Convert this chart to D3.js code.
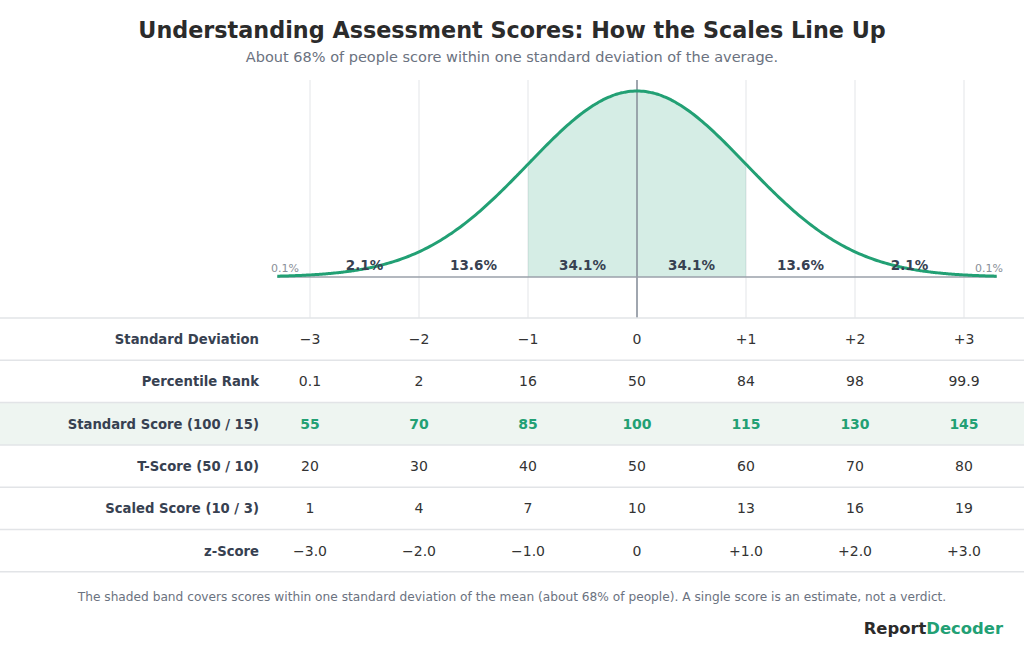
<!DOCTYPE html>
<html>
<head>
<meta charset="utf-8">
<script src="https://cdn.jsdelivr.net/npm/d3@7"></script>
<style>
  body { margin: 0; background: #fff; }
  svg { display: block; font-family: "DejaVu Sans", sans-serif; }
</style>
</head>
<body>
<div id="screen"></div>
<script>
var width = 1024;
var height = 654;

// the SD columns
var sdSteps = [-3, -2, -1, 0, 1, 2, 3];
// percent of people between neighbouring SD lines
var bandMids = [-2.5, -1.5, -0.5, 0.5, 1.5, 2.5];
var bandLabels = ["2.1%", "13.6%", "34.1%", "34.1%", "13.6%", "2.1%"];
var tailLabels = ["0.1%", "0.1%"];

var rowNames = ["Standard Deviation", "Percentile Rank", "Standard Score (100 / 15)",
  "T-Score (50 / 10)", "Scaled Score (10 / 3)", "z-Score"];
var sdLabels = ["\u22123", "\u22122", "\u22121", "0", "+1", "+2", "+3"];
var percentileRanks = ["0.1", "2", "16", "50", "84", "98", "99.9"];
var standardScores = ["55", "70", "85", "100", "115", "130", "145"];
var tScores = ["20", "30", "40", "50", "60", "70", "80"];
var scaledScores = ["1", "4", "7", "10", "13", "16", "19"];
var zScores = ["\u22123.0", "\u22122.0", "\u22121.0", "0", "+1.0", "+2.0", "+3.0"];
var tableRows = [sdLabels, percentileRanks, standardScores, tScores, scaledScores, zScores];
var highlightRow = 2;

var green = "#22a074";
var dark = "#2b2b2b";
var labelCol = "#374151";

var svg = d3.select("#screen").append("svg")
  .attr("width", width).attr("height", height);

svg.append("text").attr("x", 512).attr("y", 38)
  .attr("text-anchor", "middle").attr("font-size", "22.3px").attr("font-weight", "bold")
  .attr("fill", dark).text("Understanding Assessment Scores: How the Scales Line Up");
svg.append("text").attr("x", 512).attr("y", 62)
  .attr("text-anchor", "middle").attr("font-size", "14.5px")
  .attr("fill", "#6b7280").text("About 68% of people score within one standard deviation of the average.");

var x = d3.scaleLinear().domain([-3.3, 3.3]).range([277.3, 996.7]);
var pdf = function (z) { return Math.exp(-z * z / 2) / Math.sqrt(2 * Math.PI); };
var y = d3.scaleLinear().domain([0, pdf(0)]).range([277, 91]);
var baseY = 277;
var tableTop = 318;
var rowH = 42.3;

// grid lines
svg.selectAll("line.grid").data(sdSteps).enter().append("line")
  .attr("class", "grid")
  .attr("x1", function (d) { return x(d); }).attr("x2", function (d) { return x(d); })
  .attr("y1", 80).attr("y2", tableTop)
  .attr("stroke", function (d) { return d === 0 ? "#9aa0aa" : "#e3e5e8"; })
  .attr("stroke-width", function (d) { return d === 0 ? 1.5 : 1; });

// shaded band (-1..+1)
var bandPts = d3.range(-1, 1.0001, 0.02);
var area = d3.area()
  .x(function (d) { return x(d); })
  .y0(baseY)
  .y1(function (d) { return y(pdf(d)); });
svg.append("path").datum(bandPts).attr("d", area)
  .attr("fill", green).attr("fill-opacity", 0.19);

// redraw center line over band
svg.append("line").attr("x1", x(0)).attr("x2", x(0)).attr("y1", 80).attr("y2", tableTop)
  .attr("stroke", "#9aa0aa").attr("stroke-width", 1.5);

// baseline
svg.append("line").attr("x1", x(-3.3)).attr("x2", x(3.3)).attr("y1", baseY).attr("y2", baseY)
  .attr("stroke", "#9aa0aa").attr("stroke-width", 1.5);

// curve
var curvePts = d3.range(-3.3, 3.3001, 0.02);
var line = d3.line()
  .x(function (d) { return x(d); })
  .y(function (d) { return y(pdf(d)); })
  .curve(d3.curveBasis);
svg.append("path").datum(curvePts).attr("d", line)
  .attr("fill", "none").attr("stroke", green).attr("stroke-width", 3);

// band labels
svg.selectAll("text.band").data(bandMids).enter().append("text")
  .attr("class", "band")
  .attr("x", function (d) { return x(d); }).attr("y", 269.5)
  .attr("text-anchor", "middle").attr("font-size", "13.5px").attr("font-weight", "bold")
  .attr("fill", labelCol)
  .text(function (d, i) { return bandLabels[i]; });

svg.selectAll("text.tail").data([-3.23, 3.23]).enter().append("text")
  .attr("class", "tail")
  .attr("x", function (d) { return x(d); }).attr("y", 271.5)
  .attr("text-anchor", "middle").attr("font-size", "11px")
  .attr("fill", "#8a8f98")
  .text(function (d, i) { return tailLabels[i]; });

// table
var rows = svg.selectAll("g.row").data(tableRows).enter().append("g")
  .attr("class", "row")
  .attr("transform", function (d, i) { return "translate(0," + (tableTop + i * rowH) + ")"; });

rows.append("rect")
  .attr("x", 0).attr("y", 0).attr("width", width).attr("height", rowH)
  .attr("fill", function (d, i) { return i === highlightRow ? "#eef5f1" : "#fff"; });

rows.append("text")
  .attr("x", 259).attr("y", rowH / 2 + 5)
  .attr("text-anchor", "end").attr("font-size", "13.2px").attr("font-weight", "bold")
  .attr("fill", labelCol)
  .text(function (d, i) { return rowNames[i]; });

rows.each(function (vals, ri) {
  d3.select(this).selectAll("text.val").data(vals).enter().append("text")
    .attr("class", "val")
    .attr("x", function (d, i) { return x(sdSteps[i]); })
    .attr("y", rowH / 2 + 5)
    .attr("text-anchor", "middle").attr("font-size", "14px")
    .attr("font-weight", ri === highlightRow ? "bold" : "normal")
    .attr("fill", ri === highlightRow ? green : "#333")
    .text(function (d) { return d; });
});

svg.selectAll("line.rowline").data(d3.range(tableRows.length + 1)).enter().append("line")
  .attr("class", "rowline")
  .attr("x1", 0).attr("x2", width)
  .attr("y1", function (d) { return tableTop + d * rowH; })
  .attr("y2", function (d) { return tableTop + d * rowH; })
  .attr("stroke", "#e2e4e7").attr("stroke-width", 1.5);

// footnote + brand
svg.append("text").attr("x", 512).attr("y", 601)
  .attr("text-anchor", "middle").attr("font-size", "12.2px").attr("fill", "#6b7280")
  .text("The shaded band covers scores within one standard deviation of the mean (about 68% of people). A single score is an estimate, not a verdict.");

var brand = svg.append("text").attr("x", 1003).attr("y", 634)
  .attr("text-anchor", "end").attr("font-size", "16.4px").attr("font-weight", "bold");
brand.append("tspan").attr("fill", dark).text("Report");
brand.append("tspan").attr("fill", green).text("Decoder");
</script>
</body>
</html>
